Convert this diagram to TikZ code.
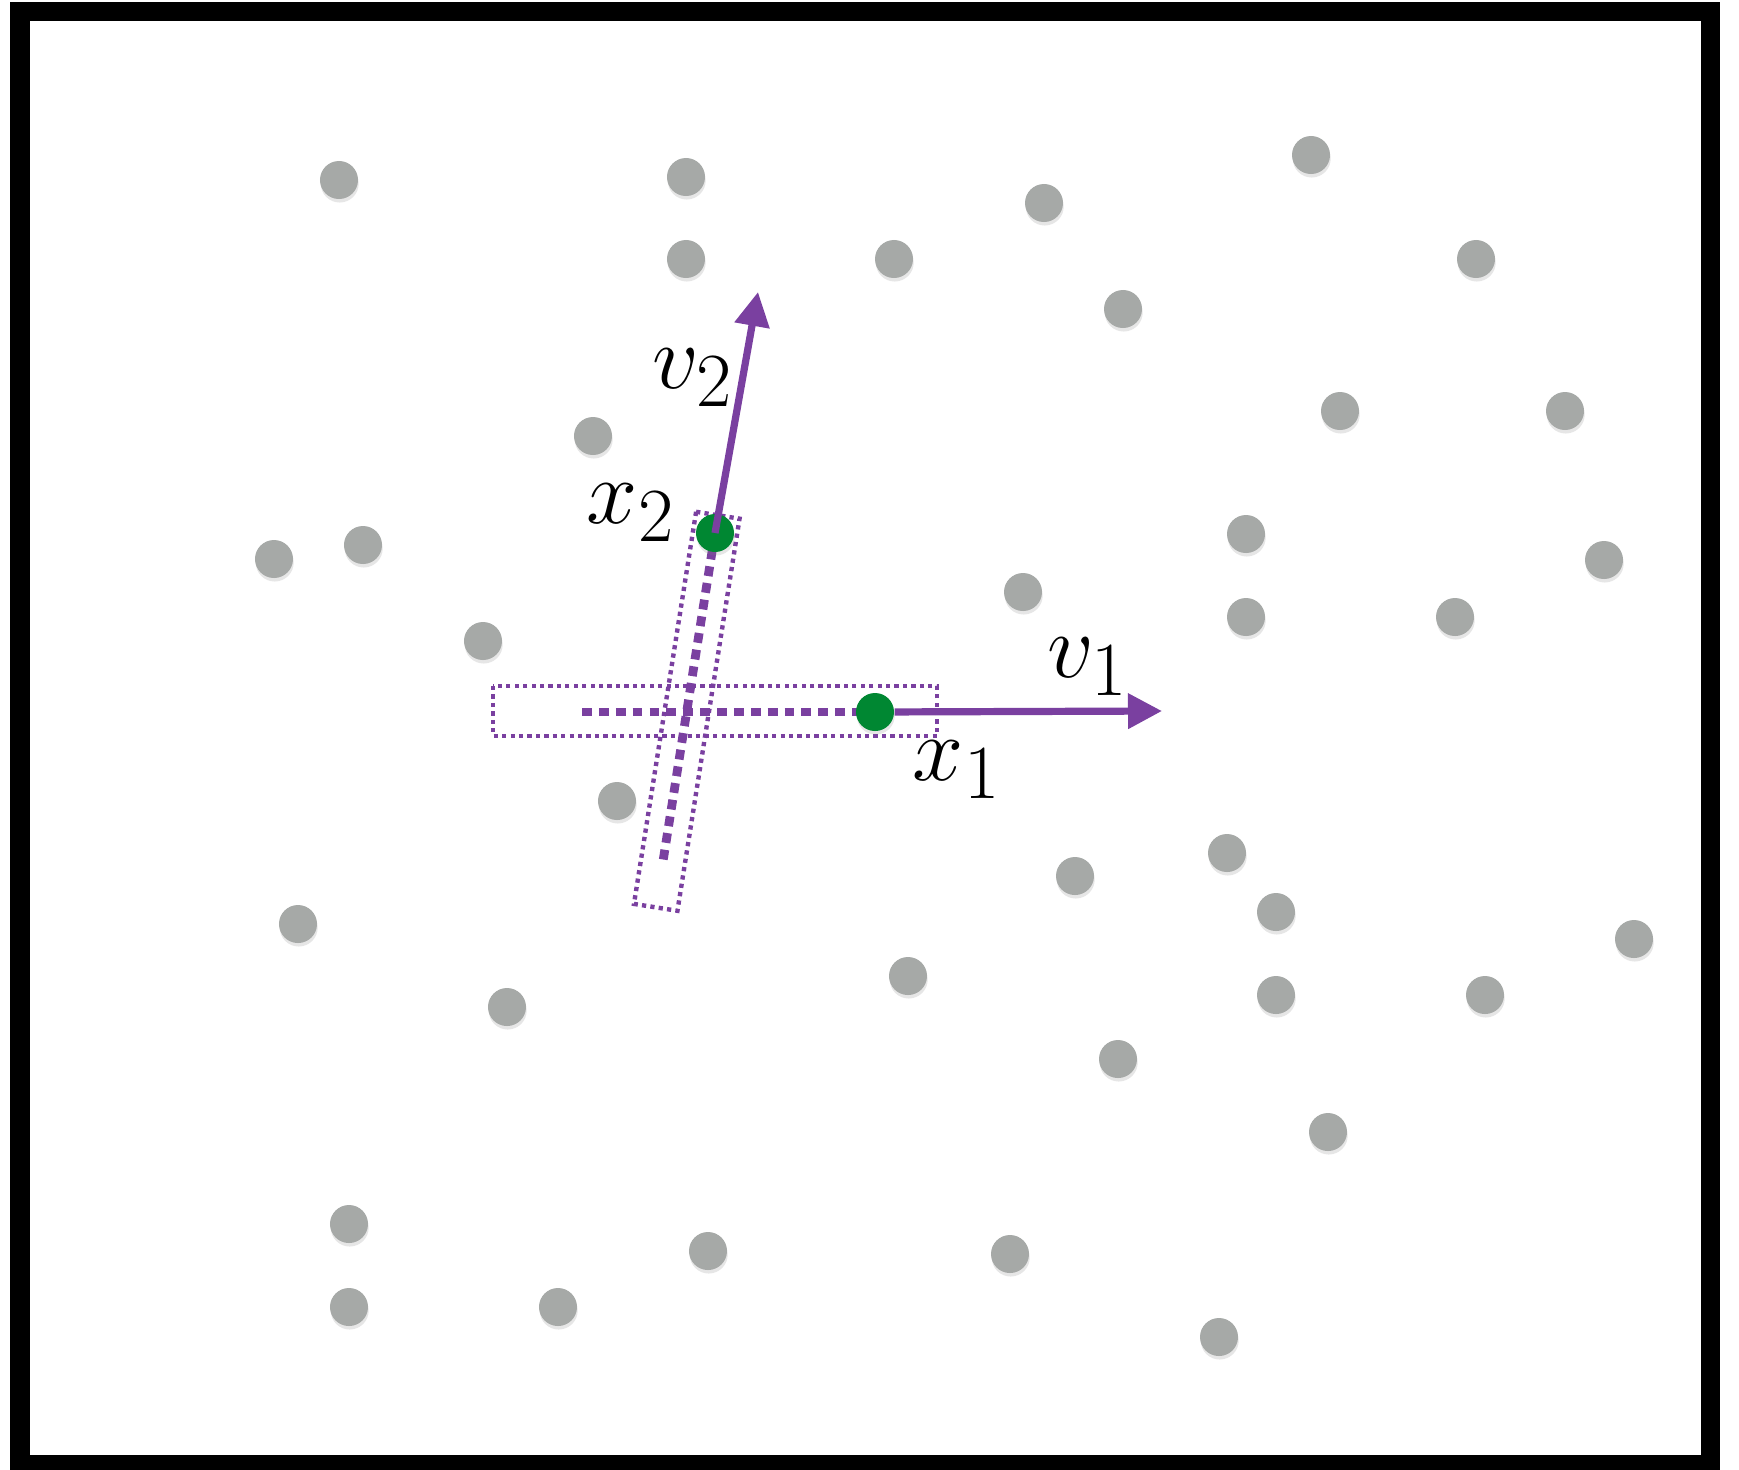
\documentclass[tikz,border=0pt]{standalone}
\usepackage{amsmath}
\usepackage{xcolor}
\usepackage{tikz}
\usetikzlibrary{arrows.meta,shadows,backgrounds}
\definecolor{DotGray}{RGB}{166,169,167}
\definecolor{SelGreen}{RGB}{0,135,50}
\definecolor{DirPurple}{RGB}{122,64,160}

\begin{document}
\begin{tikzpicture}[x=0.01cm,y=-0.01cm,
  obs/.style={circle,fill=DotGray,minimum size=0.38cm,inner sep=0pt,
              drop shadow={shadow xshift=0.2pt,shadow yshift=-1pt,opacity=0.2}},
  sel/.style={obs,fill=SelGreen},
  strip/.style={draw=DirPurple,line width=1.25pt,dash pattern=on 1.2pt off 1.2pt},
  trail/.style={draw=DirPurple,line width=2.5pt,dash pattern=on 2.8pt off 2pt},
  arr/.style={-{Triangle[length=0.34cm,width=0.34cm]},line width=0.072cm,DirPurple},
  lab/.style={inner sep=0pt,font=\Huge,scale=1.05}]
\useasboundingbox (0,0) rectangle (1739,1469);
\draw[line width=0.19cm] (20,11.5) rectangle (1710,1464.5);
% sample points
\node[obs] (p1) at (339,180) {};   \node[obs] (p2) at (686,177) {};   \node[obs] (p3) at (686,259) {};
\node[obs] (p4) at (593,436) {};   \node[obs] (p5) at (274,559) {};   \node[obs] (p6) at (363,545) {};
\node[obs] (p7) at (483,641) {};   \node[obs] (p8) at (1044,203) {};  \node[obs] (p9) at (894,259) {};
\node[obs] (p10) at (1311,155) {}; \node[obs] (p11) at (1123,309) {}; \node[obs] (p12) at (1476,259) {};
\node[obs] (p13) at (1340,411) {}; \node[obs] (p14) at (1565,411) {}; \node[obs] (p15) at (1246,534) {};
\node[obs] (p16) at (1604,560) {}; \node[obs] (p17) at (1023,592) {}; \node[obs] (p18) at (1246,617) {};
\node[obs] (p19) at (1455,617) {}; \node[obs] (p20) at (617,801) {};  \node[obs] (p21) at (298,924) {};
\node[obs] (p22) at (507,1007) {}; \node[obs] (p23) at (349,1224) {}; \node[obs] (p24) at (708,1251) {};
\node[obs] (p25) at (349,1307) {}; \node[obs] (p26) at (558,1307) {}; \node[obs] (p27) at (1075,876) {};
\node[obs] (p28) at (1227,853) {}; \node[obs] (p29) at (1276,912) {}; \node[obs] (p30) at (1634,939) {};
\node[obs] (p31) at (908,976) {};  \node[obs] (p32) at (1276,995) {}; \node[obs] (p33) at (1485,995) {};
\node[obs] (p34) at (1118,1059) {};\node[obs] (p35) at (1328,1132) {};\node[obs] (p36) at (1010,1254) {};
\node[obs] (p37) at (1219,1337) {};
% selected points and directions
\node[sel] (x1) at (875,712) {};
\node[sel] (x2) at (715,533) {};
\coordinate (v1tip) at (1162,711);
\coordinate (v2tip) at (758,292);
\coordinate (t1) at (582,712);
\begin{scope}[on background layer]
\draw[strip] (493,686) rectangle (937,736);
\draw[trail] (t1) -- (x1.center);
\begin{scope}[shift={(x2.center)},rotate=-9]
\draw[strip] (-22,-18) rectangle (22,379);
\draw[trail] (0,0) -- (0,334);
\end{scope}
\end{scope}
\draw[arr] (x1) -- (v1tip);
\draw[arr] (x2.center) -- (v2tip);
\node[lab] (lx1) at (957,770) {$x_1$};
\node[lab] (lx2) at (631,513) {$x_2$};
\node[lab] (lv1) at (1088,667) {$v_1$};
\node[lab] (lv2) at (693,378) {$v_2$};
\end{tikzpicture}
\end{document}
